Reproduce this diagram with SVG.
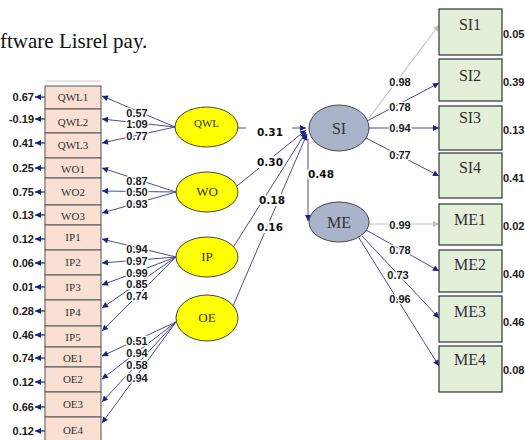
<svg xmlns="http://www.w3.org/2000/svg" width="525" height="440" viewBox="0 0 525 440">
<style>
.bx{fill:#f9e0d2;stroke:#555;stroke-width:1}
.gb{fill:#e4efda;stroke:#333;stroke-width:1.2}
.ye{fill:#ffff00;stroke:#444;stroke-width:1}
.ge{fill:#a9b3c9;stroke:#444;stroke-width:1}
.t{font-family:"Liberation Serif",serif;fill:#333;text-anchor:middle}
.ts{font-size:11px}
.tm{font-size:13px}
.tl{font-size:16px}
.n{font-family:"Liberation Sans",Arial,sans-serif;font-weight:bold;font-size:11px;fill:#1a1a1a}
.nh{paint-order:stroke;stroke:#fff;stroke-width:2.5px;text-anchor:middle}
.s{font-family:"DejaVu Sans",sans-serif;font-weight:bold;font-size:10.5px;fill:#111;text-anchor:middle;paint-order:stroke;stroke:#fff;stroke-width:4px}
.c{fill:none;stroke:#4c4c96;stroke-width:1}
.cg{fill:none;stroke:#c4c4c4;stroke-width:1.2}
.ce{fill:none;stroke:#1a237e;stroke-width:1.2}
</style>
<defs>
<marker id="a" viewBox="0 0 10 10" refX="10" refY="5" markerWidth="7" markerHeight="6" markerUnits="userSpaceOnUse" orient="auto"><path d="M0,0L10,5L0,10z" fill="#1a237e"/></marker>
<marker id="ag" viewBox="0 0 10 10" refX="10" refY="5" markerWidth="7" markerHeight="6" markerUnits="userSpaceOnUse" orient="auto"><path d="M0,0L10,5L0,10z" fill="#bdbdbd"/></marker>
</defs>
<rect width="525" height="440" fill="#fff"/>
<text x="0" y="48" font-family="Liberation Serif,serif" font-size="21" fill="#111">ftware Lisrel pay.</text>
<line x1="45" y1="81" x2="101" y2="81" stroke="#d0d0d0" stroke-width="1"/>

<g id="connectors">
<g class="ce" marker-end="url(#a)">
<path d="M45,97H35"/><path d="M45,119H35"/><path d="M45,143H35"/><path d="M45,168H35"/><path d="M45,192H35"/><path d="M45,215H35"/><path d="M45,239H35"/><path d="M45,263H35"/><path d="M45,287H35"/><path d="M45,311H35"/><path d="M45,335H35"/><path d="M45,358H35"/><path d="M45,382H35"/><path d="M45,407H35"/><path d="M45,431H35"/>
</g>
<g class="c" marker-end="url(#a)">
<path d="M175,127L102,96"/><path d="M175,127L102,119"/><path d="M175,127L102,143"/>
<path d="M176,192L102,168"/><path d="M176,192L102,191"/><path d="M176,192L102,213"/>
<path d="M176,257L102,239"/><path d="M176,257L102,263"/><path d="M176,257L102,285"/><path d="M176,257L102,308"/><path d="M176,257L102,331"/>
<path d="M176,322L102,356"/><path d="M176,322L102,379"/><path d="M176,322L102,402"/><path d="M176,322L102,423"/>
</g>
<g class="n nh">
<text x="137" y="117">0.57</text><text x="137" y="128">1.09</text><text x="137" y="140">0.77</text>
<text x="137" y="185">0.87</text><text x="137" y="196">0.50</text><text x="137" y="208">0.93</text>
<text x="137" y="253">0.94</text><text x="137" y="265">0.97</text><text x="137" y="277">0.99</text><text x="137" y="288">0.85</text><text x="137" y="300">0.74</text>
<text x="137" y="345">0.51</text><text x="137" y="357">0.94</text><text x="137" y="369">0.58</text><text x="137" y="382">0.94</text>
</g>
<path class="c" d="M238,128H246"/>
<path class="c" d="M292,128H306" marker-end="url(#a)"/>
<path class="c" d="M237,186L306,130" marker-end="url(#a)"/>
<path class="c" d="M234,246L306,132" marker-end="url(#a)"/>
<path class="c" d="M233,306L307,134" marker-end="url(#a)"/>
<path class="c" d="M308,139V221" marker-end="url(#a)"/>
<text class="s" x="270" y="136">0.31</text>
<text class="s" x="270" y="166">0.30</text>
<text class="s" x="272" y="204">0.18</text>
<text class="s" x="270" y="231">0.16</text>
<text class="s" x="321" y="178">0.48</text>
<path class="cg" d="M369,118L439,25" marker-end="url(#ag)"/>
<path class="c" d="M367,121L439,83" marker-end="url(#a)"/>
<path class="c" d="M369,128H439" marker-end="url(#a)"/>
<path class="c" d="M366,138L439,176" marker-end="url(#a)"/>
<path class="cg" d="M369,224H439" marker-end="url(#ag)"/>
<path class="c" d="M366,230L439,271" marker-end="url(#a)"/>
<path class="c" d="M362,236L439,318" marker-end="url(#a)"/>
<path class="c" d="M359,238L439,366" marker-end="url(#a)"/>
<g class="n nh">
<text x="400" y="86">0.98</text><text x="400" y="111">0.78</text><text x="400" y="132">0.94</text><text x="400" y="159">0.77</text>
<text x="400" y="229">0.99</text><text x="400" y="254">0.78</text><text x="398" y="279">0.73</text><text x="400" y="303">0.96</text>
</g>
</g>

<g id="errors" class="n" text-anchor="end">
<text x="34" y="101">0.67</text><text x="34" y="123">-0.19</text><text x="34" y="147">0.41</text><text x="34" y="172">0.25</text><text x="34" y="196">0.75</text><text x="34" y="219">0.13</text><text x="34" y="243">0.12</text><text x="34" y="267">0.06</text><text x="34" y="291">0.01</text><text x="34" y="315">0.28</text><text x="34" y="339">0.46</text><text x="34" y="362">0.74</text><text x="34" y="386">0.12</text><text x="34" y="411">0.66</text><text x="34" y="435">0.12</text>
</g>

<g id="QWL1"><rect class="bx" x="45" y="86" width="56" height="23"/><text class="t ts" x="73" y="101">QWL1</text></g>
<g id="QWL2"><rect class="bx" x="45" y="109" width="56" height="24"/><text class="t ts" x="73" y="126">QWL2</text></g>
<g id="QWL3"><rect class="bx" x="45" y="133" width="56" height="25"/><text class="t ts" x="73" y="149">QWL3</text></g>
<g id="WO1"><rect class="bx" x="45" y="158" width="56" height="20"/><text class="t ts" x="73" y="173">WO1</text></g>
<g id="WO2"><rect class="bx" x="45" y="178" width="56" height="27"/><text class="t ts" x="73" y="196">WO2</text></g>
<g id="WO3"><rect class="bx" x="45" y="205" width="56" height="20"/><text class="t ts" x="73" y="220">WO3</text></g>
<g id="IP1"><rect class="bx" x="45" y="225" width="56" height="25"/><text class="t ts" x="73" y="241">IP1</text></g>
<g id="IP2"><rect class="bx" x="45" y="250" width="56" height="25"/><text class="t ts" x="73" y="266">IP2</text></g>
<g id="IP3"><rect class="bx" x="45" y="275" width="56" height="25"/><text class="t ts" x="73" y="291">IP3</text></g>
<g id="IP4"><rect class="bx" x="45" y="300" width="56" height="26"/><text class="t ts" x="73" y="316">IP4</text></g>
<g id="IP5"><rect class="bx" x="45" y="326" width="56" height="21"/><text class="t ts" x="73" y="341">IP5</text></g>
<g id="OE1"><rect class="bx" x="45" y="347" width="56" height="20"/><text class="t ts" x="73" y="362">OE1</text></g>
<g id="OE2"><rect class="bx" x="45" y="367" width="56" height="25"/><text class="t ts" x="73" y="383">OE2</text></g>
<g id="OE3"><rect class="bx" x="45" y="392" width="56" height="25"/><text class="t ts" x="73" y="408">OE3</text></g>
<g id="OE4"><rect class="bx" x="45" y="417" width="56" height="26"/><text class="t ts" x="73" y="434">OE4</text></g>

<g id="QWL"><ellipse class="ye" cx="206.5" cy="127" rx="31.5" ry="20"/><text class="t ts" x="206.5" y="127">QWL</text></g>
<g id="WO"><ellipse class="ye" cx="207" cy="192" rx="31" ry="20"/><text class="t tm" x="207" y="196">WO</text></g>
<g id="IP"><ellipse class="ye" cx="207" cy="257" rx="31" ry="20"/><text class="t tm" x="207" y="261">IP</text></g>
<g id="OE"><ellipse class="ye" cx="207" cy="318" rx="31" ry="23"/><text class="t tm" x="207" y="322">OE</text></g>

<g id="SI"><ellipse class="ge" cx="339" cy="128" rx="30" ry="23"/><text class="t tl" x="339" y="134">SI</text></g>
<g id="ME"><ellipse class="ge" cx="339" cy="222" rx="30" ry="20"/><text class="t tl" x="339" y="228">ME</text></g>

<g id="SI1"><rect class="gb" x="439" y="9" width="63" height="46"/><text class="t tl" x="470" y="30">SI1</text></g>
<g id="SI2"><rect class="gb" x="439" y="59" width="63" height="42"/><text class="t tl" x="470" y="81">SI2</text></g>
<g id="SI3"><rect class="gb" x="439" y="106" width="63" height="44"/><text class="t tl" x="470" y="123">SI3</text></g>
<g id="SI4"><rect class="gb" x="439" y="153" width="63" height="45"/><text class="t tl" x="470" y="173">SI4</text></g>
<g id="ME1"><rect class="gb" x="439" y="204" width="63" height="41"/><text class="t tl" x="470" y="225">ME1</text></g>
<g id="ME2"><rect class="gb" x="439" y="250" width="63" height="42"/><text class="t tl" x="470" y="270">ME2</text></g>
<g id="ME3"><rect class="gb" x="439" y="296" width="63" height="46"/><text class="t tl" x="470" y="317">ME3</text></g>
<g id="ME4"><rect class="gb" x="439" y="346" width="63" height="46"/><text class="t tl" x="470" y="365">ME4</text></g>

<g id="residuals" class="n">
<text x="503" y="38">0.05</text><text x="503" y="86">0.39</text><text x="503" y="134">0.13</text><text x="503" y="182">0.41</text><text x="503" y="230">0.02</text><text x="503" y="278">0.40</text><text x="503" y="326">0.46</text><text x="503" y="374">0.08</text>
</g>
</svg>
